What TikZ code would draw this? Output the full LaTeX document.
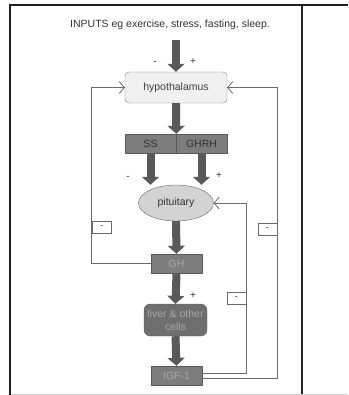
\documentclass[tikz,border=0pt]{standalone}
\usepackage{fontspec}
\setmainfont{Liberation Sans}
\usetikzlibrary{arrows.meta,shapes.geometric,calc}
\definecolor{arrowdark}{HTML}{595959}
\definecolor{boxgray}{HTML}{7D7D7D}
\definecolor{liverfill}{HTML}{6E6E6E}
\definecolor{hypfill}{HTML}{F0F0F0}
\definecolor{pitfill}{HTML}{D3D3D3}
\definecolor{fbline}{HTML}{6A6A6A}
\definecolor{darktext}{HTML}{333333}
\definecolor{lighttext}{HTML}{A8A8A8}
\tikzset{
  txt/.style={font=\fontsize{10.5}{12}\selectfont, text=darktext, inner sep=0pt},
  hypbox/.style={draw=gray, fill=hypfill, rounded corners=4pt, minimum width=102pt, minimum height=31pt, inner sep=0pt, txt, text=black!75},
  graybox/.style={draw=black!65, fill=boxgray, minimum height=19pt, inner sep=0pt, txt},
  pitshape/.style={ellipse, draw=black!60, fill=pitfill, minimum width=75pt, minimum height=36pt, inner sep=0pt, txt},
  liverbox/.style={draw=black!60, fill=liverfill, rounded corners=6pt, minimum width=63pt, minimum height=32pt, inner sep=0pt, txt, text=lighttext, align=center, font=\fontsize{10.5}{13}\selectfont},
  bigarrow/.style={draw=arrowdark, line width=8pt, -{Triangle[length=8pt,width=17pt,fill=arrowdark]}},
  fb/.style={draw=fbline, line width=0.8pt, -{Straight Barb[length=5pt,width=12pt]}},
  minusbox/.style={draw=fbline, fill=white, line width=0.7pt, minimum width=19pt, minimum height=12pt, inner sep=0pt, font=\fontsize{9}{10}\selectfont, text=darktext},
  sign/.style={txt, font=\fontsize{10}{11}\selectfont}
}
\begin{document}
\begin{tikzpicture}[x=1pt,y=-1pt]
\useasboundingbox (0,0) rectangle (348,395);
% frame
\draw[line width=1.2pt, black!85] (302,5) -- (302,393.5);
\draw[line width=1pt, black!20] (10,394.3) -- (348,394.3);
\draw[line width=2pt, black!88] (9,5.5) -- (348,5.5);
\draw[line width=2.2pt, black!88] (10.2,4.5) -- (10.2,395);

% nodes
\node[txt] (inputs) at (170,25) {INPUTS eg exercise, stress, fasting, sleep.};
\coordinate (inp) at (176,40);
\node[hypbox] (hyp) at (176,87.5) {hypothalamus};
\node[graybox, minimum width=51pt] (ss) at (150.5,143.5) {SS};
\node[graybox, minimum width=51pt] (ghrh) at (201.5,143.5) {GHRH};
\node[pitshape] (pit) at (176,203) {pituitary};
\node[graybox, minimum width=51pt, text=lighttext] (gh) at (176.5,263.5) {GH};
\node[liverbox] (liver) at (175.5,320) {liver \& other\\cells};
\node[graybox, minimum width=51pt, text=lighttext] (igf) at (176.5,375.5) {IGF-1};

% signs
\node[sign] (m1) at (155,63) {-};
\node[sign] (p1) at (193,62) {+};
\node[sign] (m2) at (128,178) {-};
\node[sign] (p2) at (219,176) {+};
\node[sign] (p3) at (193,296) {+};

% main arrows
\draw[bigarrow] (inp) -- (hyp.north);
\draw[bigarrow] (hyp.south) -- (ss.north east);
\draw[bigarrow] (ss.south) -- (ss.south |- pit.north);
\draw[bigarrow] (ghrh.south) -- (ghrh.south |- pit.north);
\draw[bigarrow] (pit.south) -- (gh.north);
\draw[bigarrow] (gh.south) -- (liver.north);
\draw[bigarrow] (liver.south) -- (igf.north);

% feedback loops
\draw[fb] (gh.west) -- ++(-59,0) coordinate (lc) |- (hyp.west);
\draw[fb] ([yshift=-2.5pt]igf.east) -- ++(75,0) coordinate (rc) |- (hyp.east);
\draw[fb] ([yshift=2.5pt]igf.east) -- ++(44,0) coordinate (ic) |- (pit.east);

% minus boxes
\node[minusbox, anchor=west] (mb1) at (lc |- 0,227) {-};
\node[minusbox, anchor=east] (mb2) at (rc |- 0,229) {-};
\node[minusbox, anchor=east] (mb3) at (ic |- 0,298) {-};
\end{tikzpicture}
\end{document}
